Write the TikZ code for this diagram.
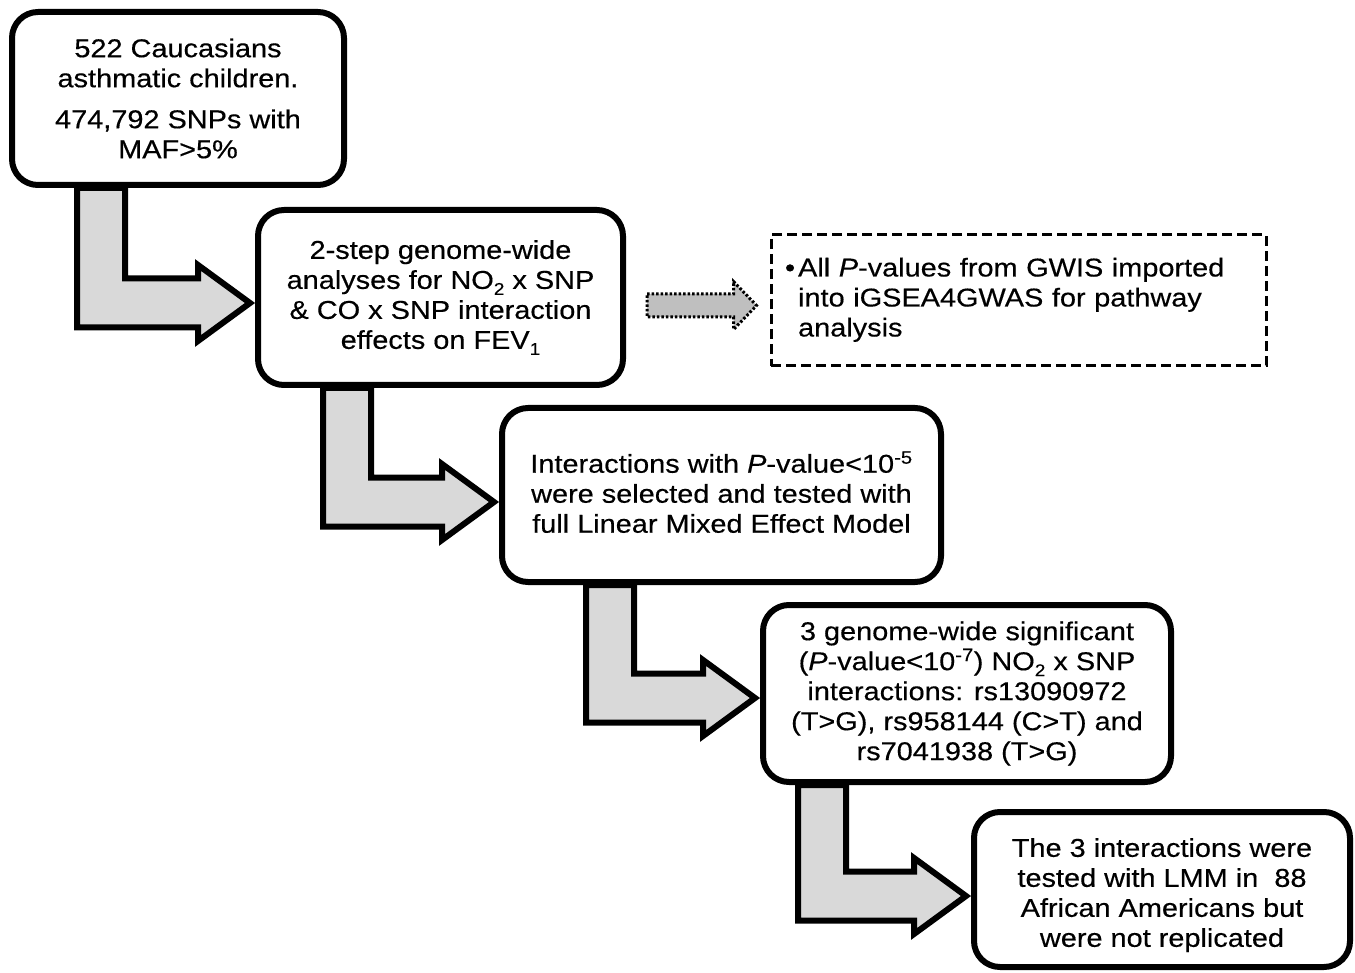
\documentclass[tikz,border=0pt]{standalone}
\usepackage{fontspec}
\setmainfont{Liberation Sans}[FakeStretch=1.12,FakeBold=0.4]
\usetikzlibrary{calc,backgrounds}
\definecolor{arrgray}{HTML}{D9D9D9}
\definecolor{dotgray}{HTML}{BFBFBF}
\newcommand\lowsub[1]{\raisebox{-6pt}{\fontsize{17}{17}\selectfont #1}}
\newcommand\bentarrow[2]{%
  \draw[bentarr] (#1) -- ($(#1)+(48,0)$) -- ($(#1 |- #2)+(48,-24.5)$)
    -- ($(#2)+(-52,-24.5)$) -- ($(#2)+(-52,-38)$) -- (#2)
    -- ($(#2)+(-52,38)$) -- ($(#2)+(-52,24.5)$)
    -- ($(#1 |- #2)+(0,24.5)$) -- cycle;}
\begin{document}
\begin{tikzpicture}[x=1pt,y=-1pt,
  txt/.style={font=\fontsize{25.8}{30}\selectfont},
  box/.style={txt, draw, line width=6pt, rounded corners=26pt, align=center,
              fill=white, inner sep=0pt},
  gbox/.style={txt, draw, line width=3pt, dash pattern=on 10pt off 5pt,
               inner sep=0pt, align=left},
  bentarr/.style={draw, line width=6pt, fill=arrgray, line join=miter},
  dotarr/.style={draw, line width=3pt, dash pattern=on 2.5pt off 2pt,
                 fill=dotgray, line join=miter}]
\useasboundingbox (0,0) rectangle (1355,973);

\node[box, minimum width=332pt, minimum height=173pt] (b1) at (178,98.5)
  {522 Caucasians\\asthmatic children.\\[11pt]474,792 SNPs with\\MAF>5\%};
\node[box, minimum width=365pt, minimum height=175pt] (b2) at (440.5,297.5)
  {2-step genome-wide\\analyses for NO\lowsub{2} x SNP\\\& CO x SNP interaction\\effects on FEV\lowsub{1}\rule[-4pt]{0pt}{4pt}};
\node[box, minimum width=439pt, minimum height=174pt] (b3) at (721.5,495)
  {Interactions with \textit{P}-value<10\textsuperscript{-5}\\were selected and tested with\\full Linear Mixed Effect Model\rule[-6pt]{0pt}{6pt}};
\node[box, minimum width=408pt, minimum height=177pt] (b4) at (967,693.5)
  {3 genome-wide significant\\(\textit{P}-value<10\textsuperscript{-7}) NO\lowsub{2} x SNP\\interactions: rs13090972\\(T>G), rs958144 (C>T) and\\rs7041938 (T>G)};
\node[box, minimum width=376pt, minimum height=155pt] (b5) at (1162,889.5)
  {\rule{0pt}{30pt}The 3 interactions were\\tested with LMM in~~88\\African Americans but\\were not replicated};
\node[gbox, minimum width=495pt, minimum height=131pt, text width=467pt] (gw) at (1018.5,300.5)
  {\begin{tabular}{@{}l@{\hspace{3pt}}l@{}}\textbullet & All \textit{P}-values from GWIS imported\\
   & into iGSEA4GWAS for pathway\\ & analysis\end{tabular}};

\begin{scope}[on background layer]
  \coordinate (s1) at ($(b1.south west)+(68,0)$);
  \coordinate (t1) at ($(b2.west)+(-5,5.5)$);
  \bentarrow{s1}{t1}
  \coordinate (s2) at ($(b2.south west)+(68,0)$);
  \coordinate (t2) at ($(b3.west)+(-5,7)$);
  \bentarrow{s2}{t2}
  \coordinate (s3) at ($(b3.south west)+(87,0)$);
  \coordinate (t3) at ($(b4.west)+(-5,4.5)$);
  \bentarrow{s3}{t3}
  \coordinate (s4) at ($(b4.south west)+(38,0)$);
  \coordinate (t4) at ($(b5.west)+(-5,6.5)$);
  \bentarrow{s4}{t4}
\end{scope}

\coordinate (ds) at ($(b2.east)+(21,8)$);
\coordinate (dt) at ($(gw.west)+(-13,5)$);
\draw[dotarr] ($(ds)+(0,-11.5)$) -- ($(dt)+(-23,-11.5)$) -- ($(dt)+(-23,-24)$)
  -- (dt) -- ($(dt)+(-23,24)$) -- ($(dt)+(-23,11.5)$) -- ($(ds)+(0,11.5)$) -- cycle;
\end{tikzpicture}
\end{document}
